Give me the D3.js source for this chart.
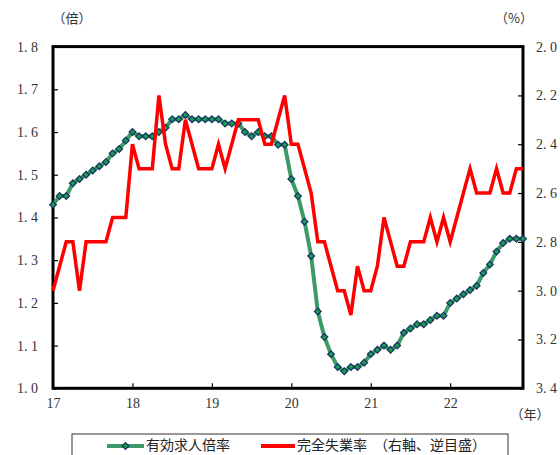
<!DOCTYPE html>
<html>
<head>
<meta charset="utf-8">
<script src="https://cdn.jsdelivr.net/npm/d3@7"></script>
<style>
  body { margin: 0; background: #fff; }
  svg { display: block; }
</style>
</head>
<body>
<svg id="chart" width="560" height="455"></svg>
<script>
// Monthly series, Jan 2017 – Dec 2022
const yearTicks = [2017, 2018, 2019, 2020, 2021, 2022];
const yearLabels = ["17", "18", "19", "20", "21", "22"];

// 有効求人倍率 (倍), left axis
const jobsRatio = [
  1.43, 1.45, 1.45, 1.48, 1.49, 1.50, 1.51, 1.52, 1.53, 1.55, 1.56, 1.58,
  1.60, 1.59, 1.59, 1.59, 1.60, 1.61, 1.63, 1.63, 1.64, 1.63, 1.63, 1.63,
  1.63, 1.63, 1.62, 1.62, 1.62, 1.60, 1.59, 1.60, 1.59, 1.59, 1.57, 1.57,
  1.49, 1.45, 1.39, 1.31, 1.18, 1.12, 1.08, 1.05, 1.04, 1.05, 1.05, 1.06,
  1.08, 1.09, 1.10, 1.09, 1.10, 1.13, 1.14, 1.15, 1.15, 1.16, 1.17, 1.17,
  1.20, 1.21, 1.22, 1.23, 1.24, 1.27, 1.29, 1.32, 1.34, 1.35, 1.35, 1.35
];

// 完全失業率 (%), right axis, inverted
const unemployment = [
  3.0, 2.9, 2.8, 2.8, 3.0, 2.8, 2.8, 2.8, 2.8, 2.7, 2.7, 2.7,
  2.4, 2.5, 2.5, 2.5, 2.2, 2.4, 2.5, 2.5, 2.3, 2.4, 2.5, 2.5,
  2.5, 2.4, 2.5, 2.4, 2.3, 2.3, 2.3, 2.3, 2.4, 2.4, 2.3, 2.2,
  2.4, 2.4, 2.5, 2.6, 2.8, 2.8, 2.9, 3.0, 3.0, 3.1, 2.9, 3.0,
  3.0, 2.9, 2.7, 2.8, 2.9, 2.9, 2.8, 2.8, 2.8, 2.7, 2.8, 2.7,
  2.8, 2.7, 2.6, 2.5, 2.6, 2.6, 2.6, 2.5, 2.6, 2.6, 2.5, 2.5
];

const leftTicks = [1.0, 1.1, 1.2, 1.3, 1.4, 1.5, 1.6, 1.7, 1.8];
const rightTicks = [2.0, 2.2, 2.4, 2.6, 2.8, 3.0, 3.2, 3.4];

const seriesNames = ["有効求人倍率", "完全失業率　（右軸、逆目盛）"];
const unitLeft = "（倍）";
const unitRight = "（%）";
const unitX = "（年）";

const plot = { left: 53, right: 523, top: 46.6, bottom: 388.3 };

const svg = d3.select("#chart");
const numFont = "'Liberation Serif', 'DejaVu Serif', serif";
const jpFont = "'Noto Sans CJK JP', sans-serif";

const monthTime = i => 2017 + i / 12;

const x = d3.scaleLinear()
  .domain([2017, 2017 + 71 / 12])
  .range([plot.left, plot.right]);
const yL = d3.scaleLinear().domain([1.0, 1.8]).range([plot.bottom, plot.top]);
const yR = d3.scaleLinear().domain([3.4, 2.0]).range([plot.bottom, plot.top]);

const fmt = d => d.toFixed(1).replace(".", ". ");

// Axes with inward ticks
const gL = svg.append("g")
  .attr("transform", `translate(${plot.left},0)`)
  .call(d3.axisLeft(yL).tickValues(leftTicks).tickSize(-5).tickPadding(15).tickFormat(fmt));
const gR = svg.append("g")
  .attr("transform", `translate(${plot.right},0)`)
  .call(d3.axisRight(yR).tickValues(rightTicks).tickSize(-5).tickPadding(13).tickFormat(fmt));
const gB = svg.append("g")
  .attr("transform", `translate(0,${plot.bottom})`)
  .call(d3.axisBottom(x).tickValues(yearTicks).tickSize(-5).tickPadding(10)
    .tickFormat((d, i) => yearLabels[i]));

[gL, gR, gB].forEach(g => {
  g.select(".domain").remove();
  g.selectAll(".tick line").attr("stroke", "#000").attr("stroke-width", 1.2);
  g.selectAll(".tick text")
    .attr("fill", "#333")
    .style("font-family", numFont)
    .style("font-size", "14px");
});

// Plot frame
svg.append("rect")
  .attr("x", plot.left).attr("y", plot.top)
  .attr("width", plot.right - plot.left)
  .attr("height", plot.bottom - plot.top)
  .attr("fill", "none")
  .attr("stroke", "#000")
  .attr("stroke-width", 3);

// Unit labels
const unitText = (t, xPos, yPos, anchor) => svg.append("text")
  .attr("x", xPos).attr("y", yPos)
  .attr("text-anchor", anchor)
  .attr("dominant-baseline", "middle")
  .attr("fill", "#333")
  .style("font-family", jpFont)
  .style("font-size", "13px")
  .text(t);
unitText(unitLeft, 72, 19, "middle");
unitText(unitRight, 514, 19, "middle");
unitText(unitX, 530, 415, "middle");

// Jobs-to-applicants ratio line with diamond markers
const green = "#3d9a68";
const diamondFill = "#16a050";
const diamondStroke = "#1b3566";

svg.append("path")
  .datum(jobsRatio)
  .attr("fill", "none")
  .attr("stroke", green)
  .attr("stroke-width", 4)
  .attr("stroke-linejoin", "round")
  .attr("d", d3.line().x((d, i) => x(monthTime(i))).y(d => yL(d)));

const diamond = d3.symbol().type(d3.symbolSquare).size(22);
svg.append("g").selectAll("path")
  .data(jobsRatio)
  .join("path")
  .attr("d", diamond)
  .attr("transform", (d, i) => `translate(${x(monthTime(i))},${yL(d)}) rotate(45)`)
  .attr("fill", diamondFill)
  .attr("stroke", diamondStroke)
  .attr("stroke-width", 1.3);

// Unemployment rate line (inverted right axis)
svg.append("path")
  .datum(unemployment)
  .attr("fill", "none")
  .attr("stroke", "#ff0000")
  .attr("stroke-width", 3.5)
  .attr("stroke-linejoin", "miter")
  .attr("d", d3.line().x((d, i) => x(monthTime(i))).y(d => yR(d)));

// Legend
const legendY = 446;
const lg = svg.append("g");
lg.append("rect")
  .attr("x", 72).attr("y", 434)
  .attr("width", 436).attr("height", 32)
  .attr("fill", "#fff")
  .attr("stroke", "#333")
  .attr("stroke-width", 1);

lg.append("line")
  .attr("x1", 107).attr("x2", 144).attr("y1", legendY).attr("y2", legendY)
  .attr("stroke", green).attr("stroke-width", 4);
lg.append("path")
  .attr("d", diamond)
  .attr("transform", `translate(125.5,${legendY}) rotate(45)`)
  .attr("fill", diamondFill)
  .attr("stroke", diamondStroke)
  .attr("stroke-width", 1.3);
lg.append("text")
  .attr("x", 146).attr("y", legendY)
  .attr("dominant-baseline", "middle")
  .style("font-family", jpFont).style("font-size", "14px")
  .attr("fill", "#222")
  .text(seriesNames[0]);

lg.append("line")
  .attr("x1", 261).attr("x2", 295).attr("y1", legendY).attr("y2", legendY)
  .attr("stroke", "#ff0000").attr("stroke-width", 4);
lg.append("text")
  .attr("x", 297).attr("y", legendY)
  .attr("dominant-baseline", "middle")
  .style("font-family", jpFont).style("font-size", "14px")
  .attr("fill", "#222")
  .text(seriesNames[1]);
</script>
</body>
</html>
